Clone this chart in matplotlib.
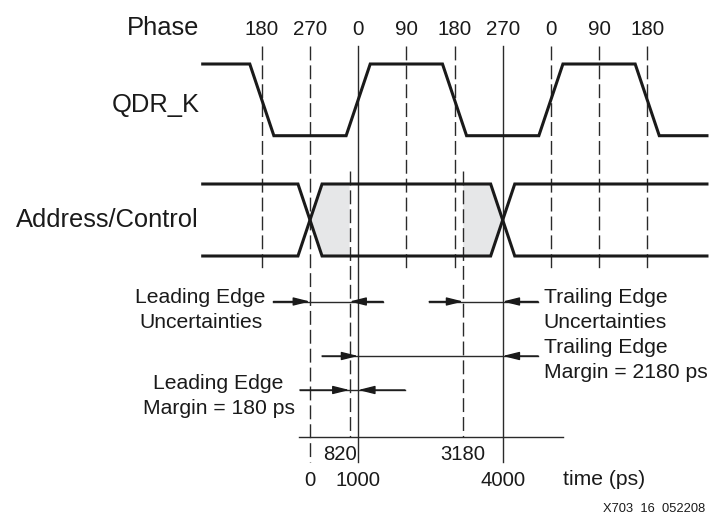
import matplotlib
matplotlib.use('Agg')
import matplotlib.pyplot as plt
from matplotlib.patches import Polygon

# ---------------- data (times in ps) ----------------
phase_labels = ['180', '270', '0', '90', '180', '270', '0', '90', '180']
phase_times = [-1000, 0, 1000, 2000, 3000, 4000, 5000, 6000, 7000]
solid_times = [1000, 4000]          # reference lines drawn solid
long_times = [0, 1000, 4000]        # lines running down to the time axis
clk_edge_times = [-1000, 1000, 3000, 5000, 7000]
clk_edge_dirs = ['fall', 'rise', 'fall', 'rise', 'fall']
addr_cross_times = [0, 4000]
valid_window = [820, 3180]
time_tick_values = [0, 1000, 4000]
time_tick_labels = ['0', '1000', '4000']
window_tick_values = [820, 3180]
window_tick_labels = ['820', '3180']
# arrows: (tail_left, tip_right_pointing, tip_left_pointing, tail_right)
lead_unc_arrow = (-760, 0, 820, 1520)
trail_unc_arrow = (2475, 3180, 4000, 4735)
trail_margin_arrow = (250, 1000, 4000, 4735)
lead_margin_arrow = (-210, 820, 1000, 1970)

# ---------------- layout ----------------
W, H, DPI = 709, 514, 100
PX_PER_PS = 0.048175
X0 = 310.0                       # pixel of t = 0
T_START, T_END = -2227, 8240
EDGE = 250                        # half transition time

fig = plt.figure(figsize=(W / DPI, H / DPI), dpi=DPI)
ax = fig.add_axes([0, 0, 1, 1])
ax.set_xlim(-X0 / PX_PER_PS, (W - X0) / PX_PER_PS)
ax.set_ylim(H, 0)
ax.axis('off')

FONT = 'Liberation Sans'
INK = '#1a1a1a'
LINE = '#2a2a2a'
dash = (0, (10, 3.6))
tx = lambda px: (px - X0) / PX_PER_PS

# vertical reference lines
for t in phase_times:
    ls = '-' if t in solid_times else dash
    y1 = 462 if t in long_times else 268
    ax.plot([t, t], [46, y1], color=LINE, lw=1.0, ls=ls, zorder=2)
for t in valid_window:
    ax.plot([t, t], [171, 437], color=LINE, lw=1.0, ls=dash, zorder=2)

# phase labels
ax.text(tx(199.5), 35, 'Phase', ha='right', va='baseline',
        fontsize=18.4, family=FONT, color=INK)
for t, lab in zip(phase_times, phase_labels):
    ax.text(t, 35, lab, ha='center', va='baseline', fontsize=14.8, family=FONT, color=INK)

# QDR_K clock
QHI, QLO = 64, 135.7
lvl = {1: QHI, 0: QLO}
cur = 1
xs, ys = [T_START], [lvl[cur]]
for te, d in zip(clk_edge_times, clk_edge_dirs):
    new = 1 if d == 'rise' else 0
    xs += [te - EDGE, te + EDGE]
    ys += [lvl[cur], lvl[new]]
    cur = new
xs.append(T_END)
ys.append(lvl[cur])
ax.plot(xs, ys, color=INK, lw=2.2, solid_joinstyle='miter', zorder=4)
ax.text(tx(200), 111.7, 'QDR_K', ha='right', va='baseline',
        fontsize=18.4, family=FONT, color=INK)

# Address/Control
ATOP, ABOT = 184, 256
AMID = (ATOP + ABOT) / 2
for start in (ATOP, ABOT):
    cur = start
    xs, ys = [T_START], [cur]
    for tc in addr_cross_times:
        other = ABOT if cur == ATOP else ATOP
        xs += [tc - EDGE, tc + EDGE]
        ys += [cur, other]
        cur = other
    xs.append(T_END)
    ys.append(cur)
    ax.plot(xs, ys, color=INK, lw=2.2, solid_joinstyle='miter', zorder=4)

shade = '#e6e7e8'
t0, t1 = addr_cross_times
v0, v1 = valid_window
ax.add_patch(Polygon([(t0, AMID), (t0 + EDGE, ATOP), (v0, ATOP), (v0, ABOT), (t0 + EDGE, ABOT)],
                     closed=True, facecolor=shade, edgecolor='none', zorder=1))
ax.add_patch(Polygon([(v1, ATOP), (t1 - EDGE, ATOP), (t1, AMID), (t1 - EDGE, ABOT), (v1, ABOT)],
                     closed=True, facecolor=shade, edgecolor='none', zorder=1))
ax.text(tx(199), 226.7, 'Address/Control', ha='right', va='baseline',
        fontsize=18.4, family=FONT, color=INK)


# dimension arrows
def dim(spec, y):
    tl, tip_r, tip_l, tr = spec
    ax.plot([tl, tr], [y, y], color=LINE, lw=1.0, zorder=3)
    ap = dict(arrowstyle='-|>,head_length=1.0,head_width=0.25', mutation_scale=10,
              color=INK, lw=1.0, shrinkA=0, shrinkB=0)
    ax.annotate('', xy=(tip_r, y), xytext=(tl, y), arrowprops=ap, zorder=5)
    ax.annotate('', xy=(tip_l, y), xytext=(tr, y), arrowprops=ap, zorder=5)


dim(lead_unc_arrow, 301.5)
dim(trail_unc_arrow, 301.5)
dim(trail_margin_arrow, 356)
dim(lead_margin_arrow, 390)

fs = 15.2
ax.text(tx(200), 302.7, 'Leading Edge', ha='center', va='baseline', fontsize=fs, family=FONT, color=INK)
ax.text(tx(200.5), 328.3, 'Uncertainties', ha='center', va='baseline', fontsize=fs, family=FONT, color=INK)
ax.text(tx(218), 389, 'Leading Edge', ha='center', va='baseline', fontsize=fs, family=FONT, color=INK)
ax.text(tx(218.5), 414, 'Margin = 180 ps', ha='center', va='baseline', fontsize=fs, family=FONT, color=INK)
ax.text(tx(543.5), 302.7, 'Trailing Edge', ha='left', va='baseline', fontsize=fs, family=FONT, color=INK)
ax.text(tx(543.5), 328.3, 'Uncertainties', ha='left', va='baseline', fontsize=fs, family=FONT, color=INK)
ax.text(tx(543.5), 353.3, 'Trailing Edge', ha='left', va='baseline', fontsize=fs, family=FONT, color=INK)
ax.text(tx(543.5), 378.3, 'Margin = 2180 ps', ha='left', va='baseline', fontsize=fs, family=FONT, color=INK)

# time axis
ax.plot([tx(299), tx(562.7)], [436.7, 436.7], color=LINE, lw=1.0, zorder=3)
ax.text(tx(357.3), 460, window_tick_labels[0], ha='right', va='baseline',
        fontsize=14.6, family=FONT, color=INK)
ax.text(window_tick_values[1], 460, window_tick_labels[1], ha='center', va='baseline',
        fontsize=14.6, family=FONT, color=INK)
for v, lab in zip(time_tick_values, time_tick_labels):
    ax.text(v, 485.7, lab, ha='center', va='baseline', fontsize=14.6, family=FONT, color=INK)
ax.text(tx(563), 485, 'time (ps)', ha='left', va='baseline', fontsize=15.2, family=FONT, color=INK)
ax.text(tx(705), 512.5, 'X703  16  052208', ha='right', va='baseline',
        fontsize=9.3, family=FONT, color=INK)

fig.savefig('out.png', dpi=DPI)
